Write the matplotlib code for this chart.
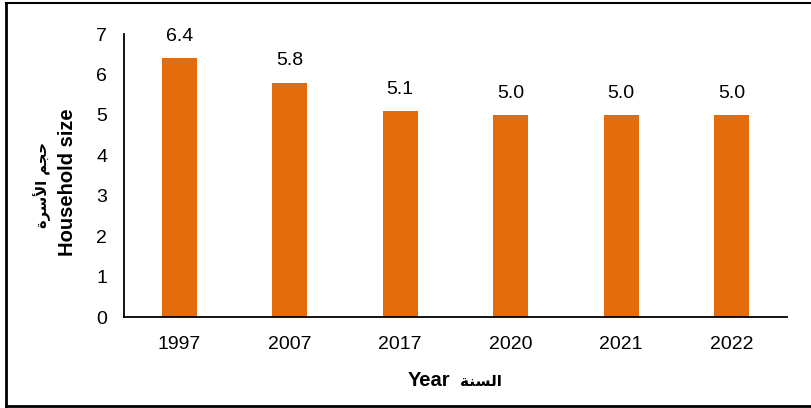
import matplotlib.pyplot as plt
from matplotlib.lines import Line2D

years = ["1997", "2007", "2017", "2020", "2021", "2022"]
household_size = [6.4, 5.8, 5.1, 5.0, 5.0, 5.0]
y_ticks = [0, 1, 2, 3, 4, 5, 6, 7]

# arabic written in presentation forms, visual order (matplotlib does no shaping)
ar_size = "\uFE93\uFEAE\uFEB3\uFEF7\uFE8D \uFEE2\uFEA0\uFEA3"   # حجم الأسرة
ar_year = "\uFE94\uFEE8\uFEB4\uFEDF\uFE8D"                      # السنة

plt.rcParams['font.family'] = ['Liberation Sans', 'DejaVu Sans']

fig = plt.figure(figsize=(8.12, 4.08), dpi=100)
ax = fig.add_axes([124/812, 1 - 317/408, (787 - 124)/812, (317 - 34)/408])

x = range(len(years))
bars = ax.bar(x, household_size, width=0.32, color="#E46C0A")
for xi, v in zip(x, household_size):
    ax.annotate(f"{v:.1f}", (xi, v), xytext=(0, 9.5), textcoords="offset points",
                ha="center", va="bottom", fontsize=14)

ax.set_xlim(-0.5, len(years) - 0.5)
ax.set_ylim(0, 7)
ax.set_yticks(y_ticks)
ax.set_xticks(list(x))
ax.set_xticklabels(years)
ax.tick_params(axis="y", length=0, pad=12, labelsize=14)
ax.tick_params(axis="x", length=0, pad=13.5, labelsize=14)
for s in ["top", "right"]:
    ax.spines[s].set_visible(False)
for s in ["left", "bottom"]:
    ax.spines[s].set_linewidth(1.3)
    ax.spines[s].set_color("black")

fig.text(68/812, 1 - 182/408, "Household size", rotation=90, fontsize=14.5,
         fontweight="bold", ha="center", va="center")
fig.text(42/812, 1 - 185/408, ar_size, rotation=90, fontsize=10.5,
         fontweight="bold", ha="center", va="center",
         family=['DejaVu Sans'])
fig.text(429/812, 1 - 381/408, "Year", fontsize=14.5, fontweight="bold",
         ha="center", va="center")
fig.text(481/812, 1 - 381/408, ar_year, fontsize=11, fontweight="bold",
         ha="center", va="center", family=['DejaVu Sans'])

# frame around the picture
fig.add_artist(Line2D([6/812, 6/812], [1 - 3/408, 1 - 406/408], color="black", lw=2,
                      transform=fig.transFigure))
fig.add_artist(Line2D([6/812, 1], [1 - 3/408, 1 - 3/408], color="black", lw=1.5,
                      transform=fig.transFigure))
fig.add_artist(Line2D([6/812, 1], [1 - 406/408, 1 - 406/408], color="black", lw=2,
                      transform=fig.transFigure))

fig.savefig("out.png", dpi=100)
